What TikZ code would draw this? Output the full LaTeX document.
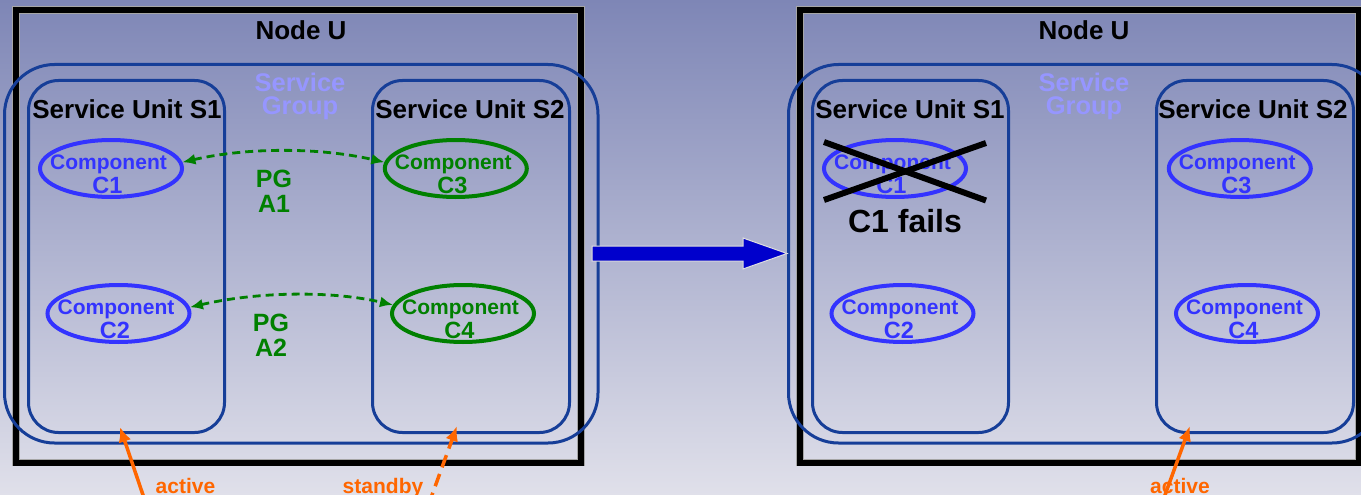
\documentclass[tikz,border=0pt]{standalone}
\usepackage{fontspec}
\setmainfont{Liberation Sans}
\usetikzlibrary{arrows.meta,calc,shapes.geometric}
\definecolor{bgtop}{RGB}{126,134,182}
\definecolor{bgbot}{RGB}{224,224,234}
\definecolor{unitblue}{RGB}{22,62,152}
\definecolor{compblue}{RGB}{51,51,255}
\definecolor{sgtext}{RGB}{150,150,255}
\definecolor{pggreen}{RGB}{0,128,0}
\definecolor{orng}{RGB}{255,102,0}
\definecolor{bigblue}{RGB}{0,0,204}
\newcommand\myfs[1]{\fontsize{#1}{#1}\selectfont}
\begin{document}
\begin{tikzpicture}[x=1pt,y=-1pt,
  txt/.style={inner sep=0pt, outer sep=0pt, anchor=base, font=\bfseries},
  sgtxt/.style={inner sep=0pt, outer sep=0pt, anchor=center, align=center, text=sgtext, font=\bfseries\fontsize{25.5}{22.5}\selectfont},
  nodebox/.style={draw=gray!70, double=black, double distance=6pt, line width=0.7pt, inner sep=0pt},
  sgbox/.style={draw=unitblue, line width=3pt, rounded corners=50pt, inner sep=0pt},
  unitbox/.style={draw=unitblue, line width=3pt, rounded corners=30pt, inner sep=0pt, minimum height=352pt},
  comp/.style={ellipse, line width=4pt, inner sep=0pt, minimum width=142pt, minimum height=57pt},
  pgarrow/.style={draw=pggreen, line width=2.8pt, dash pattern=on 8pt off 5pt, {Latex[length=13pt,width=11pt]}-{Latex[length=13pt,width=11pt]}},
  orarrow/.style={draw=orng, line width=3.5pt, -{Latex[length=15pt,width=13pt]}},
  xline/.style={draw=black, line width=6pt}
]
\useasboundingbox (0,0) rectangle (1361,495);
\clip (0,0) rectangle (1361,495);
\shade[top color=bgtop, bottom color=bgbot] (0,0) rectangle (1361,495);

% ---------------- left diagram ----------------
\node[nodebox, minimum width=565pt, minimum height=452.5pt] (Lnode) at (298.5,236.25) {};
\node[sgbox, minimum width=593.5pt, minimum height=378.5pt] (Lsg) at (301.25,253.75) {};
\node[unitbox, minimum width=196pt] (Ls1) at (126.5,256.5) {};
\node[unitbox, minimum width=197pt] (Ls2) at (471,256.5) {};

\node[txt, font=\bfseries\myfs{26}] (LnodeT) at (301,40) {Node U};
\node[sgtxt] (Lsgt) at (300,96.5) {Service\\Group};
\node[txt, font=\bfseries\myfs{26}] (Ls1t) at (127,118) {Service Unit S1};
\node[txt, font=\bfseries\myfs{26}] (Ls2t) at (470,118) {Service Unit S2};

\node[comp, draw=compblue] (Lc1) at (111,168.5) {};
\node[comp, draw=pggreen] (Lc3) at (455.8,168.5) {};
\node[comp, draw=compblue] (Lc2) at (118.5,313.5) {};
\node[comp, draw=pggreen] (Lc4) at (463,313.5) {};

\node[txt, font=\bfseries\myfs{21}, text=compblue] (Lc1a) at ($(Lc1.center)+(-2.5,0.5)$) {Component};
\node[txt, font=\bfseries\myfs{23.5}, text=compblue] (Lc1b) at ($(Lc1.center)+(-3.5,24.5)$) {C1};
\node[txt, font=\bfseries\myfs{21}, text=pggreen] (Lc3a) at ($(Lc3.center)+(-2.5,0.5)$) {Component};
\node[txt, font=\bfseries\myfs{23.5}, text=pggreen] (Lc3b) at ($(Lc3.center)+(-3.5,24.5)$) {C3};
\node[txt, font=\bfseries\myfs{21}, text=compblue] (Lc2a) at ($(Lc2.center)+(-2.5,0.5)$) {Component};
\node[txt, font=\bfseries\myfs{23.5}, text=compblue] (Lc2b) at ($(Lc2.center)+(-3.5,24.5)$) {C2};
\node[txt, font=\bfseries\myfs{21}, text=pggreen] (Lc4a) at ($(Lc4.center)+(-2.5,0.5)$) {Component};
\node[txt, font=\bfseries\myfs{23.5}, text=pggreen] (Lc4b) at ($(Lc4.center)+(-3.5,24.5)$) {C4};

\node[txt, font=\bfseries\myfs{25}, text=pggreen] (Lpg1) at (274,187) {PG};
\node[txt, font=\bfseries\myfs{25}, text=pggreen] (Lpa1) at (274,212) {A1};
\node[txt, font=\bfseries\myfs{25}, text=pggreen] (Lpg2) at (271,331) {PG};
\node[txt, font=\bfseries\myfs{25}, text=pggreen] (Lpa2) at (271,356) {A2};

\draw[pgarrow] (Lc1.5) .. controls +(65,-15) and +(-65,-15) .. (Lc3.175);
\draw[pgarrow] (Lc2.5) .. controls +(65,-15) and +(-65,-15) .. (Lc4.173);

\coordinate (La1) at (146.4,505);
\coordinate (La2) at (428.4,505);
\draw[orarrow] (La1) -- ([xshift=-6.5pt,yshift=7pt]Ls1.south);
\draw[orarrow, dash pattern=on 13pt off 7pt] (La2) -- ([xshift=-14pt,yshift=8pt]Ls2.south);
\node[txt, font=\bfseries\myfs{21}, text=orng] (Lact) at (185.5,493) {active};
\node[txt, font=\bfseries\myfs{21}, text=orng] (Lsby) at (383,493) {standby};

% ---------------- right diagram ----------------
\node[nodebox, minimum width=559pt, minimum height=452.5pt] (Rnode) at (1079.5,236.25) {};
\node[sgbox, minimum width=593.5pt, minimum height=378.5pt] (Rsg) at (1085.25,253.75) {};
\node[unitbox, minimum width=196pt] (Rs1) at (910.5,256.5) {};
\node[unitbox, minimum width=197pt] (Rs2) at (1255,256.5) {};

\node[txt, font=\bfseries\myfs{26}] (RnodeT) at (1084,40) {Node U};
\node[sgtxt] (Rsgt) at (1084,96.5) {Service\\Group};
\node[txt, font=\bfseries\myfs{26}] (Rs1t) at (910,118) {Service Unit S1};
\node[txt, font=\bfseries\myfs{26}] (Rs2t) at (1253,118) {Service Unit S2};

\node[comp, draw=compblue] (Rc1) at (895,168.5) {};
\node[comp, draw=compblue] (Rc3) at (1239.8,168.5) {};
\node[comp, draw=compblue] (Rc2) at (902.5,313.5) {};
\node[comp, draw=compblue] (Rc4) at (1247,313.5) {};

\node[txt, font=\bfseries\myfs{21}, text=compblue] (Rc1a) at ($(Rc1.center)+(-2.5,0.5)$) {Component};
\node[txt, font=\bfseries\myfs{23.5}, text=compblue] (Rc1b) at ($(Rc1.center)+(-3.5,24.5)$) {C1};
\node[txt, font=\bfseries\myfs{21}, text=compblue] (Rc3a) at ($(Rc3.center)+(-2.5,0.5)$) {Component};
\node[txt, font=\bfseries\myfs{23.5}, text=compblue] (Rc3b) at ($(Rc3.center)+(-3.5,24.5)$) {C3};
\node[txt, font=\bfseries\myfs{21}, text=compblue] (Rc2a) at ($(Rc2.center)+(-2.5,0.5)$) {Component};
\node[txt, font=\bfseries\myfs{23.5}, text=compblue] (Rc2b) at ($(Rc2.center)+(-3.5,24.5)$) {C2};
\node[txt, font=\bfseries\myfs{21}, text=compblue] (Rc4a) at ($(Rc4.center)+(-2.5,0.5)$) {Component};
\node[txt, font=\bfseries\myfs{23.5}, text=compblue] (Rc4b) at ($(Rc4.center)+(-3.5,24.5)$) {C4};

\draw[xline] ($(Rc1.center)+(-71,-26.5)$) -- ($(Rc1.center)+(91,32)$);
\draw[xline] ($(Rc1.center)+(-71,31.5)$) -- ($(Rc1.center)+(91,-25.5)$);
\node[txt, font=\bfseries\myfs{32}] (Rfail) at (905,232) {C1 fails};

\coordinate (Ra1) at (1161.4,505);
\draw[orarrow] (Ra1) -- ([xshift=-65pt,yshift=8pt]Rs2.south);
\node[txt, font=\bfseries\myfs{21}, text=orng] (Ract) at (1180,493) {active};

% ---------------- transition arrow ----------------
\draw[fill=bigblue, draw=gray!25, line width=1pt]
  (592,246) -- (743,246) -- (743,238) -- (787,253.5) -- (743,269) -- (743,261) -- (592,261) -- cycle;
\end{tikzpicture}
\end{document}
